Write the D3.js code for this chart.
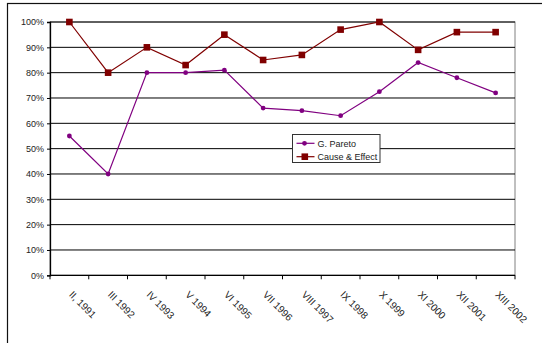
<!DOCTYPE html>
<html>
<head>
<meta charset="utf-8">
<script src="https://cdn.jsdelivr.net/npm/d3@7/dist/d3.min.js"></script>
<style>
  html, body { margin: 0; padding: 0; background: #fff; }
  svg { display: block; }
  text { font-family: "Liberation Sans", Arial, sans-serif; font-size: 9px; fill: #222; }
</style>
</head>
<body>
<svg id="chart" width="542" height="343"></svg>
<script>
// Categories and series (percent)
const categories = ["II, 1991", "III 1992", "IV 1993", "V 1994", "VI 1995", "VII 1996",
                    "VIII 1997", "IX 1998", "X 1999", "XI 2000", "XII 2001", "XIII 2002"];
const paretoValues = [55, 40, 80, 80, 81, 66, 65, 63, 72.5, 84, 78, 72];
const causeEffectValues = [100, 80, 90, 83, 95, 85, 87, 97, 100, 89, 96, 96];
const yTicks = [0, 10, 20, 30, 40, 50, 60, 70, 80, 90, 100];
const seriesNames = ["G. Pareto", "Cause & Effect"];

const svg = d3.select("#chart");
const plot = { left: 50, top: 22, right: 515, bottom: 275.3 };

// Outer chart frame
svg.append("rect")
  .attr("x", 7.5).attr("y", 3.5)
  .attr("width", 600).attr("height", 400)
  .attr("fill", "none").attr("stroke", "#111").attr("stroke-width", 1.2);

const x = d3.scaleBand().domain(categories).range([plot.left, plot.right]).padding(0);
const y = d3.scaleLinear().domain([0, 100]).range([plot.bottom, plot.top]);

// Plot area border (right / top)
svg.append("rect")
  .attr("x", plot.left).attr("y", plot.top)
  .attr("width", plot.right - plot.left).attr("height", plot.bottom - plot.top)
  .attr("fill", "none").attr("stroke", "#808080").attr("stroke-width", 1);

// Horizontal gridlines
svg.append("g").selectAll("line")
  .data(yTicks.filter(d => d > 0))
  .join("line")
  .attr("x1", plot.left).attr("x2", plot.right)
  .attr("y1", d => y(d)).attr("y2", d => y(d))
  .attr("stroke", "#000").attr("stroke-width", 1);

// Y axis
const yAxis = svg.append("g")
  .attr("transform", `translate(${plot.left},0)`)
  .call(d3.axisLeft(y).tickValues(yTicks).tickFormat(d => d + "%").tickSize(3).tickPadding(3));
yAxis.select(".domain").attr("stroke", "#000").attr("stroke-width", 1.3);
yAxis.selectAll(".tick line").attr("stroke", "#000");
yAxis.selectAll("text").style("font-size", "9px").attr("fill", "#222");

// X axis with ticks at category boundaries
const xAxisG = svg.append("g").attr("transform", `translate(0,${plot.bottom})`);
xAxisG.append("line")
  .attr("x1", plot.left).attr("x2", plot.right)
  .attr("y1", 0).attr("y2", 0)
  .attr("stroke", "#000").attr("stroke-width", 1.3);
const boundaries = categories.map(c => x(c)).concat([plot.right]);
xAxisG.selectAll("line.tk")
  .data(boundaries)
  .join("line").attr("class", "tk")
  .attr("x1", d => d).attr("x2", d => d)
  .attr("y1", 0).attr("y2", 4)
  .attr("stroke", "#000");
xAxisG.selectAll("text")
  .data(categories)
  .join("text")
  .attr("transform", d => `translate(${x(d) + x.bandwidth() / 2 - 1},${20}) rotate(45)`)
  .attr("text-anchor", "start")
  .style("font-size", "10px")
  .text(d => d);

const cx = d => x(d) + x.bandwidth() / 2;
const line = d3.line().x(d => cx(d.c)).y(d => y(d.v));

const pareto = categories.map((c, i) => ({ c, v: paretoValues[i] }));
const cause = categories.map((c, i) => ({ c, v: causeEffectValues[i] }));

const purple = "#800080";
const darkRed = "#800000";

// Cause & Effect series
svg.append("path").datum(cause).attr("d", line)
  .attr("fill", "none").attr("stroke", darkRed).attr("stroke-width", 1.2);
svg.append("g").selectAll("rect").data(cause).join("rect")
  .attr("x", d => cx(d.c) - 3.3).attr("y", d => y(d.v) - 3.3)
  .attr("width", 6.6).attr("height", 6.6).attr("fill", darkRed);

// G. Pareto series
svg.append("path").datum(pareto).attr("d", line)
  .attr("fill", "none").attr("stroke", purple).attr("stroke-width", 1.2);
svg.append("g").selectAll("circle").data(pareto).join("circle")
  .attr("cx", d => cx(d.c)).attr("cy", d => y(d.v)).attr("r", 2.4).attr("fill", purple);

// Legend
const lg = svg.append("g").attr("transform", "translate(292.5,134.5)");
lg.append("rect").attr("width", 87.5).attr("height", 28)
  .attr("fill", "#fff").attr("stroke", "#333").attr("stroke-width", 1);
const legendColors = [purple, darkRed];
seriesNames.forEach((name, i) => {
  const ly = 8.8 + i * 13.4;
  lg.append("line").attr("x1", 4).attr("x2", 22).attr("y1", ly).attr("y2", ly)
    .attr("stroke", legendColors[i]).attr("stroke-width", 1.2);
  if (i === 0) {
    lg.append("circle").attr("cx", 12).attr("cy", ly).attr("r", 2.4).attr("fill", legendColors[i]);
  } else {
    lg.append("rect").attr("x", 9).attr("y", ly - 3.3).attr("width", 6.6).attr("height", 6.6)
      .attr("fill", legendColors[i]);
  }
  lg.append("text").attr("x", 25).attr("y", ly + 3.2).text(name);
});
</script>
</body>
</html>
